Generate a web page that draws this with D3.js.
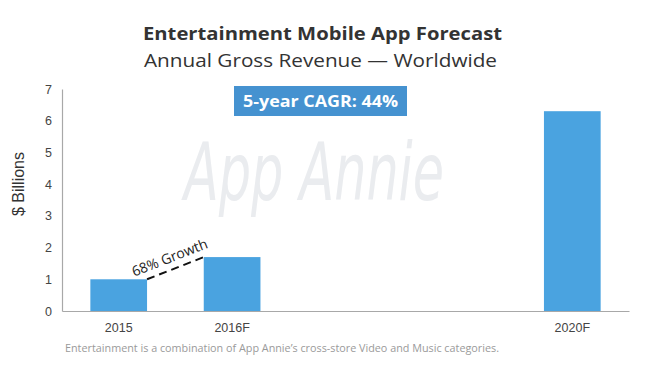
<!DOCTYPE html>
<html>
<head>
<meta charset="utf-8">
<script src="https://cdn.jsdelivr.net/npm/d3@7"></script>
<style>
  body { margin: 0; background: #fff; }
  svg { display: block; }
</style>
</head>
<body>
<div id="chart"></div>
<script>
let height = 369,
    width = 652,
    margin = ({ top: 89, right: 23, bottom: 58, left: 62 });

// data
const slots = ["2015", "2016F", "2017F", "2018F", "2020F"];
const tickLabels = ["2015", "2016F", "", "", "2020F"];
const years = ["2015", "2016F", "2020F"];
const revenue = [1.0, 1.7, 6.3];
const yTicks = [0, 1, 2, 3, 4, 5, 6, 7];
const growthNote = "68% Growth";
const cagrNote = "5-year CAGR: 44%";

const data = years.map((y, i) => ({ year: y, value: revenue[i] }));

const svg = d3.select("#chart")
    .append("svg")
    .attr("width", width)
    .attr("height", height);

const fontMain = "'Open Sans', 'Noto Sans', sans-serif";
const fontAxis = "'Liberation Sans', Arial, sans-serif";

let x = d3.scaleBand()
    .domain(slots)
    .range([margin.left, width - margin.right])
    .paddingInner(0.5)
    .paddingOuter(0.25);

let y = d3.scaleLinear()
    .domain([0, 7])
    .range([height - margin.bottom, margin.top]);

// title
svg.append("text").attr("x", 143).attr("y", 40)
  .attr("textLength", 359).attr("lengthAdjust", "spacingAndGlyphs")
  .text("Entertainment Mobile App Forecast")
  .style("font-family", fontMain).style("font-weight", "bold").style("font-size", "17.5px").style("fill", "#333");
svg.append("text").attr("x", 144).attr("y", 67)
  .attr("textLength", 353).attr("lengthAdjust", "spacingAndGlyphs")
  .text("Annual Gross Revenue \u2014 Worldwide")
  .style("font-family", fontMain).style("font-size", "18px").style("fill", "#333");

// watermark
svg.append("text").attr("x", 184).attr("y", 200)
  .text("App Annie")
  .attr("textLength", 260).attr("lengthAdjust", "spacingAndGlyphs")
  .style("font-family", "'Liberation Sans Narrow', 'DejaVu Sans Condensed', sans-serif")
  .style("font-style", "italic")
  .style("font-size", "80px").style("fill", "#eaecef");

// bars
svg.append("g")
  .selectAll("rect")
  .data(data)
  .join("rect")
  .attr("x", d => x(d.year))
  .attr("width", x.bandwidth())
  .attr("y", d => y(d.value))
  .attr("height", d => y(0) - y(d.value))
  .attr("fill", "#4aa3e0");

// axes
const xAxis = svg.append("g")
  .attr("transform", `translate(0,${height - margin.bottom})`)
  .call(d3.axisBottom(x).tickSize(0).tickPadding(12).tickFormat((d, i) => tickLabels[i]));
xAxis.select(".domain").attr("stroke", "#a8a8a8").attr("stroke-width", 1.2);
xAxis.selectAll("text").style("font-family", fontAxis).style("font-size", "12.5px").style("fill", "#444");

const yAxis = svg.append("g")
  .attr("transform", `translate(${margin.left},0)`)
  .call(d3.axisLeft(y).tickValues(yTicks).tickFormat(d3.format("d")).tickSize(0).tickPadding(10));
yAxis.select(".domain").attr("stroke", "#a8a8a8").attr("stroke-width", 1.2);
yAxis.selectAll("text").style("font-family", fontAxis).style("font-size", "12.5px").style("fill", "#444");

svg.append("text")
  .attr("transform", `translate(24,${(y(0) + y(7)) / 2 - 16}) rotate(-90)`)
  .attr("text-anchor", "middle")
  .text("$ Billions")
  .style("font-family", fontAxis).style("font-size", "16px").style("fill", "#333");

// growth line between 2015 and 2016F
const gx1 = x(years[0]) + x.bandwidth(), gy1 = y(revenue[0]);
const gx2 = x(years[1]), gy2 = y(revenue[1]);
svg.append("line")
  .attr("x1", gx1).attr("y1", gy1).attr("x2", gx2).attr("y2", gy2)
  .attr("stroke", "#111").attr("stroke-width", 2).attr("stroke-dasharray", "8,5");
const ang = Math.atan2(gy2 - gy1, gx2 - gx1) * 180 / Math.PI;
svg.append("text")
  .attr("transform", `translate(${(gx1 + gx2) / 2 - 4},${(gy1 + gy2) / 2 - 6}) rotate(${ang})`)
  .attr("text-anchor", "middle")
  .text(growthNote)
  .style("font-family", fontMain).style("font-size", "14px").style("fill", "#222");

// CAGR badge
svg.append("rect").attr("x", 234).attr("y", 86).attr("width", 173).attr("height", 30).attr("fill", "#4592d0");
svg.append("text").attr("x", 243).attr("y", 107)
  .attr("textLength", 155).attr("lengthAdjust", "spacingAndGlyphs")
  .text(cagrNote)
  .style("font-family", fontMain).style("font-weight", "bold").style("font-size", "16px").style("fill", "#fff");

// footnote
svg.append("text").attr("x", 65).attr("y", 352)
  .attr("textLength", 434).attr("lengthAdjust", "spacingAndGlyphs")
  .text("Entertainment is a combination of App Annie\u2019s cross-store Video and Music categories.")
  .style("font-family", fontMain).style("font-size", "10px").style("fill", "#9a9a9a");
</script>
</body>
</html>
